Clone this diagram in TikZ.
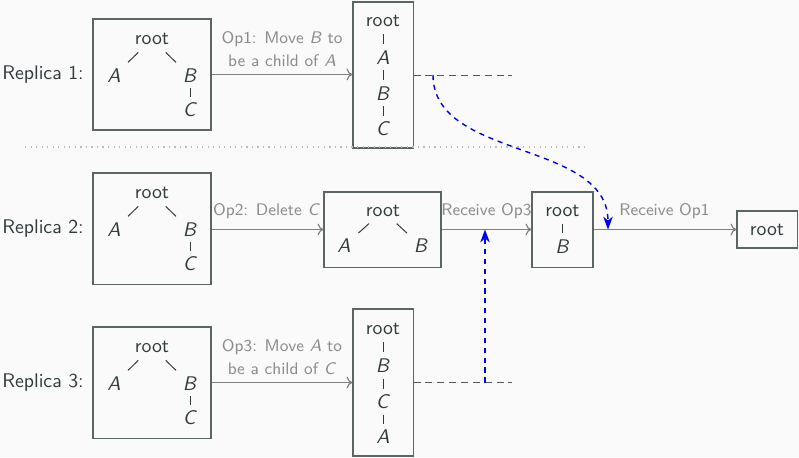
\documentclass[tikz,border=0pt]{standalone}
\usetikzlibrary{arrows.meta,calc}
\definecolor{bg}{HTML}{FAFAFA}
\definecolor{txt}{HTML}{2F3B3B}
\definecolor{boxc}{HTML}{5A6565}
\definecolor{arrc}{HTML}{808080}
\definecolor{lblc}{HTML}{8C8C8C}
\definecolor{dashc}{HTML}{555555}
\definecolor{dotc}{HTML}{BBBBBB}
\definecolor{blu}{HTML}{0000EE}
\newcommand\mv[1]{\textsl{#1}}
\newcommand\tedge[2]{\draw[te] ($(#1)!0.36!(#2)$) -- ($(#1)!0.63!(#2)$);}
\begin{document}
\begin{tikzpicture}[x=0.506pt,y=-0.506pt,
  font=\sffamily\fontsize{10}{12}\selectfont,
  box/.style={draw=boxc,line width=0.55pt,inner sep=0pt},
  tn/.style={inner sep=0pt,text=txt},
  te/.style={draw=txt,line width=0.5pt},
  arr/.style={draw=arrc,line width=0.6pt,-{To[length=3pt,width=6pt]}},
  lbl/.style={text=lblc,font=\sffamily\fontsize{8.5}{11.6}\selectfont,align=center,inner sep=0pt},
  rep/.style={text=txt,inner sep=0pt},
  dsh/.style={draw=dashc,line width=0.5pt,dash pattern=on 3.5pt off 2.5pt},
  blue/.style={draw=blu,line width=0.7pt,dash pattern=on 2.6pt off 2.4pt,-{Stealth[length=6.5pt,width=4.8pt,inset=2pt]}}
]
\useasboundingbox (0,0) rectangle (799,457);
\fill[bg] (0,0) rectangle (799,457);

% labels
\node[rep] (rep1) at (43,75) {Replica 1:};
\node[rep] (rep2) at (43,229) {Replica 2:};
\node[rep] (rep3) at (43,383) {Replica 3:};

% ---------- Row 1 ----------
\node[box,minimum width=59.7pt,minimum height=56.2pt] (b11) at (152,74.5) {};
\node[tn] (r11) at (152,39) {root};
\node[tn] (a11) at (114,76) {\mv{A}};
\node[tn] (bb11) at (190,76) {\mv{B}};
\node[tn] (c11) at (190,110) {\mv{C}};
\tedge{r11}{a11}\tedge{r11}{bb11}\tedge{bb11}{c11}

\node[box,minimum width=30.4pt,minimum height=73.9pt] (b12) at (383,75) {};
\node[tn] (r12) at (383,21) {root};
\node[tn] (a12) at (383,57.5) {\mv{A}};
\node[tn] (bb12) at (383,93.5) {\mv{B}};
\node[tn] (c12) at (383,129) {\mv{C}};
\tedge{r12}{a12}\tedge{a12}{bb12}\tedge{bb12}{c12}

\draw[arr] (b11.east) -- (b11.east -| b12.west);
\node[lbl] (l1) at (282,49.5) {Op1: Move \mv{B} to\\be a child of \mv{A}};

\coordinate (e1) at (512,75);
\draw[dsh] (b12.east |- e1) -- (e1);

% separator
\coordinate (sepL) at (25,147);
\coordinate (sepR) at (587,147);
\draw[dotc,line width=0.6pt,dash pattern=on 0.6pt off 2.2pt] (sepL) -- (sepR);

% ---------- Row 2 ----------
\node[box,minimum width=59.7pt,minimum height=56.2pt] (b21) at (152,228.5) {};
\node[tn] (r21) at (152,193) {root};
\node[tn] (a21) at (114,230) {\mv{A}};
\node[tn] (bb21) at (190,230) {\mv{B}};
\node[tn] (c21) at (190,264) {\mv{C}};
\tedge{r21}{a21}\tedge{r21}{bb21}\tedge{bb21}{c21}

\node[box,minimum width=59.2pt,minimum height=38pt] (b22) at (382.5,229.5) {};
\node[tn] (r22) at (383,211) {root};
\node[tn] (a22) at (344,246) {\mv{A}};
\node[tn] (bb22) at (421,246) {\mv{B}};
\tedge{r22}{a22}\tedge{r22}{bb22}

\node[box,minimum width=30.9pt,minimum height=38pt] (b23) at (562.5,229.5) {};
\node[tn] (r23) at (562.5,211) {root};
\node[tn] (bb23) at (562.5,246.5) {\mv{B}};
\tedge{r23}{bb23}

\node[box,minimum width=30.4pt,minimum height=18.7pt,text=txt] (b24) at (767,229.5) {root};

\draw[arr] (b22.west -| b21.east) -- (b22.west);
\draw[arr] (b22.east) -- (b23.west);
\draw[arr] (b23.east) -- (b24.west);
\node[lbl] (l2) at (266.5,211.5) {Op2: Delete \mv{C}};
\node[lbl] (l3) at (486.5,211.5) {Receive Op3};
\node[lbl] (l4) at (664.5,211.5) {Receive Op1};

% ---------- Row 3 ----------
\node[box,minimum width=59.7pt,minimum height=56.2pt] (b31) at (152,382.5) {};
\node[tn] (r31) at (152,347) {root};
\node[tn] (a31) at (114,384) {\mv{A}};
\node[tn] (bb31) at (190,384) {\mv{B}};
\node[tn] (c31) at (190,418) {\mv{C}};
\tedge{r31}{a31}\tedge{r31}{bb31}\tedge{bb31}{c31}

\node[box,minimum width=30.4pt,minimum height=74.4pt] (b32) at (383,382.5) {};
\node[tn] (r32) at (383,329) {root};
\node[tn] (bb32) at (383,366) {\mv{B}};
\node[tn] (c32) at (383,402) {\mv{C}};
\node[tn] (a32) at (383,437) {\mv{A}};
\tedge{r32}{bb32}\tedge{bb32}{c32}\tedge{c32}{a32}

\draw[arr] (b31.east) -- (b31.east -| b32.west);
\node[lbl] (l5) at (282,357) {Op3: Move \mv{A} to\\be a child of \mv{C}};

\coordinate (e3) at (512,382.5);
\draw[dsh] (b32.east |- e3) -- (e3);

% ---------- blue messages ----------
\coordinate (s1) at (433,75);
\coordinate (t1) at (608,229.5);
\draw[blue] (s1) .. controls (433,160) and (608,140) .. (t1);

\coordinate (s3) at (485,382.5);
\coordinate (t3) at (485,229.5);
\draw[blue] (s3) -- (t3);
\end{tikzpicture}
\end{document}
